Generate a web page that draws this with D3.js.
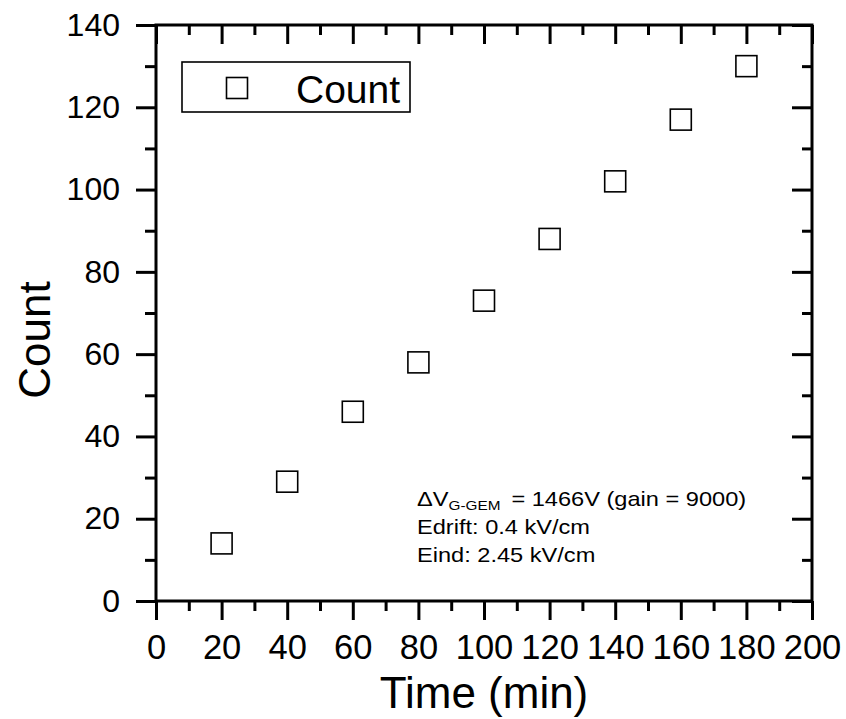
<!DOCTYPE html>
<html>
<head>
<meta charset="utf-8">
<script src="https://cdn.jsdelivr.net/npm/d3@7"></script>
<style>
  html, body { margin: 0; padding: 0; background: #fff; }
  svg { display: block; font-family: "Liberation Sans", Arial, sans-serif; }
</style>
</head>
<body>
<svg id="chart" width="846" height="719"></svg>
<script>
// Counts recorded every 20 minutes
const timeMin = [20, 40, 60, 80, 100, 120, 140, 160, 180];
const counts  = [14, 29, 46, 58, 73, 88, 102, 117, 130];

const xTicks = [0, 20, 40, 60, 80, 100, 120, 140, 160, 180, 200];
const yTicks = [0, 20, 40, 60, 80, 100, 120, 140];
const xMinor = d3.range(10, 200, 20);
const yMinor = d3.range(10, 140, 20);

const seriesName = "Count";
const xTitle = "Time (min)";
const yTitle = "Count";
const noteLines = ["Edrift: 0.4 kV/cm", "Eind: 2.45 kV/cm"];

const svg = d3.select("#chart");
const m = { left: 156, top: 25, right: 812, bottom: 601 };

const x = d3.scaleLinear().domain([0, 200]).range([m.left, m.right]);
const y = d3.scaleLinear().domain([0, 140]).range([m.bottom, m.top]);

const lw = 3;

function styleAxis(g, fontSize) {
  g.select(".domain").remove();
  g.selectAll(".tick line").attr("stroke", "#000").attr("stroke-width", lw);
  g.selectAll(".tick text").attr("fill", "#000").style("font-size", fontSize + "px")
    .style("font-family", "'Liberation Sans', Arial, sans-serif");
}

// bottom axis: major ticks with labels, minor ticks without
svg.append("g").attr("transform", `translate(0,${m.bottom})`)
  .call(d3.axisBottom(x).tickValues(xTicks).tickSize(19).tickPadding(15).tickFormat(d3.format("d")))
  .call(g => styleAxis(g, 34.5));
svg.append("g").attr("transform", `translate(0,${m.bottom})`)
  .call(d3.axisBottom(x).tickValues(xMinor).tickSize(10).tickFormat(""))
  .call(g => styleAxis(g, 10));

// left axis
svg.append("g").attr("transform", `translate(${m.left},0)`)
  .call(d3.axisLeft(y).tickValues(yTicks).tickSize(20).tickPadding(16).tickFormat(d3.format("d")))
  .call(g => styleAxis(g, 32));
svg.append("g").attr("transform", `translate(${m.left},0)`)
  .call(d3.axisLeft(y).tickValues(yMinor).tickSize(11).tickFormat(""))
  .call(g => styleAxis(g, 10));

// top and right: inward ticks, no labels
svg.append("g").attr("transform", `translate(0,${m.top})`)
  .call(d3.axisBottom(x).tickValues(xTicks).tickSize(19).tickFormat(""))
  .call(g => styleAxis(g, 10));
svg.append("g").attr("transform", `translate(0,${m.top})`)
  .call(d3.axisBottom(x).tickValues(xMinor).tickSize(10).tickFormat(""))
  .call(g => styleAxis(g, 10));
svg.append("g").attr("transform", `translate(${m.right},0)`)
  .call(d3.axisLeft(y).tickValues(yTicks).tickSize(20).tickFormat(""))
  .call(g => styleAxis(g, 10));
svg.append("g").attr("transform", `translate(${m.right},0)`)
  .call(d3.axisLeft(y).tickValues(yMinor).tickSize(10).tickFormat(""))
  .call(g => styleAxis(g, 10));

// frame
svg.append("rect")
  .attr("x", m.left).attr("y", m.top)
  .attr("width", m.right - m.left).attr("height", m.bottom - m.top)
  .attr("fill", "none").attr("stroke", "#000").attr("stroke-width", lw);

// open square markers
const ms = 21;
svg.append("g").selectAll("rect")
  .data(timeMin.map((t, i) => ({ t, c: counts[i] })))
  .join("rect")
  .attr("x", d => x(d.t) - ms / 2)
  .attr("y", d => y(d.c) - ms / 2)
  .attr("width", ms).attr("height", ms)
  .attr("fill", "#fff").attr("stroke", "#000").attr("stroke-width", 1.6);

// axis titles
svg.append("text")
  .attr("x", (m.left + m.right) / 2).attr("y", 708)
  .attr("text-anchor", "middle").style("font-size", "44px")
  .text(xTitle);
svg.append("text")
  .attr("transform", "translate(50,340) rotate(-90)")
  .attr("text-anchor", "middle").style("font-size", "44px")
  .text(yTitle);

// legend
const leg = svg.append("g");
leg.append("rect").attr("x", 182).attr("y", 62).attr("width", 228).attr("height", 50)
  .attr("fill", "#fff").attr("stroke", "#000").attr("stroke-width", 1.6);
leg.append("rect").attr("x", 237 - 10.5).attr("y", 88 - 10.5).attr("width", ms).attr("height", ms)
  .attr("fill", "#fff").attr("stroke", "#000").attr("stroke-width", 1.6);
leg.append("text").attr("x", 296).attr("y", 103).style("font-size", "39px").text(seriesName);

// operating conditions
const note = svg.append("g").attr("transform", "translate(417,0) scale(1.18,1)");
const l1 = note.append("text").attr("x", 0).attr("y", 506).style("font-size", "20px");
l1.append("tspan").text("ΔV");
l1.append("tspan").attr("dy", 4).style("font-size", "13px").text("G-GEM");
l1.append("tspan").attr("x", 80).attr("dy", -4).text("= 1466V (gain = 9000)");
noteLines.forEach((t, i) => {
  note.append("text").attr("x", 0).attr("y", 534 + i * 28).style("font-size", "20px").text(t);
});
</script>
</body>
</html>
